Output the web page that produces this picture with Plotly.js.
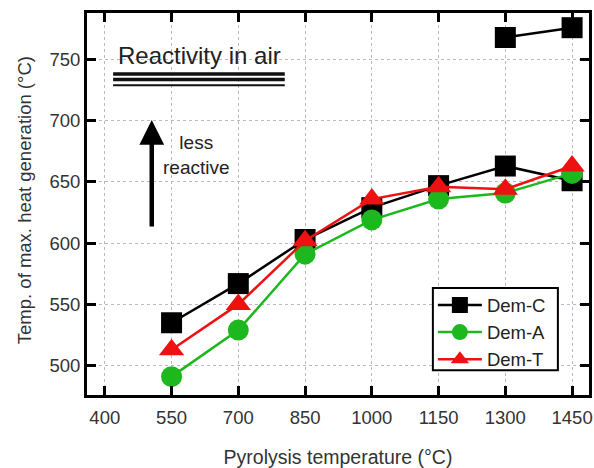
<!DOCTYPE html>
<html>
<head>
<meta charset="utf-8">
<script src="https://cdn.plot.ly/plotly-3.0.1.min.js"></script>
<style>html,body{margin:0;padding:0;background:#fff;}#chart{width:594px;height:468px;}</style>
</head>
<body>
<div id="chart"></div>
<script>
var temps = [550, 700, 850, 1000, 1150, 1300, 1450];
var demC = [535, 567, 603, 629, 647, 663, 651];
var demA = [491, 529, 591, 619, 636, 641, 657];
var demT = [513, 550, 602, 636, 646, 644, 663];
var demCHighX = [1300, 1450];
var demCHigh = [768, 776];
var xTicks = [400, 550, 700, 850, 1000, 1150, 1300, 1450];
var yTicks = [500, 550, 600, 650, 700, 750];

var F = 'Liberation Sans, Arial, sans-serif';
var traces = [
  {x: temps, y: demC, name: 'Dem-C', mode: 'lines+markers',
   line: {color: '#000', width: 2.5}, marker: {symbol: 'square', size: 21, color: '#000'}},
  {x: temps, y: demA, name: 'Dem-A', mode: 'lines+markers',
   line: {color: '#1db81d', width: 2.5}, marker: {symbol: 'circle', size: 21, color: '#1db81d'}},
  {x: temps, y: demT, name: 'Dem-T', mode: 'lines+markers',
   line: {color: '#ee1111', width: 2.5}, marker: {symbol: 'triangle-up', size: 22, color: '#ee1111'}},
  {x: demCHighX, y: demCHigh, name: 'Dem-C', mode: 'lines+markers', showlegend: false,
   line: {color: '#000', width: 2.5}, marker: {symbol: 'square', size: 21, color: '#000'}}
];
var layout = {
  width: 594, height: 468,
  margin: {l: 87, r: 5, t: 13, b: 73},
  paper_bgcolor: '#fff', plot_bgcolor: '#fff',
  font: {family: F, color: '#333'},
  showlegend: true,
  legend: {x: 0.689, y: 0.284, xanchor: 'left', yanchor: 'top', borderwidth: 0,
           bgcolor: 'rgba(0,0,0,0)', font: {size: 18.5, color: '#222', family: F}, tracegroupgap: 0, itemwidth: 44},
  xaxis: {range: [360, 1488], tickvals: xTicks, ticktext: xTicks.map(String),
          ticks: 'inside', ticklen: 9, tickwidth: 3, tickcolor: '#000', ticklabelstandoff: 4,
          showline: true, linewidth: 3, linecolor: '#000', mirror: 'ticks',
          showgrid: true, gridcolor: '#b8b8c8', griddash: 'dot', gridwidth: 1, zeroline: false,
          tickfont: {size: 18.5, color: '#333'},
          title: {text: 'Pyrolysis temperature (°C)', font: {size: 19.5, color: '#333'}, standoff: 24}},
  yaxis: {range: [476, 788], tickvals: yTicks,
          ticks: 'inside', ticklen: 9, tickwidth: 3, tickcolor: '#000',
          showline: true, linewidth: 3, linecolor: '#000', mirror: 'ticks',
          showgrid: true, gridcolor: '#b8b8c8', griddash: 'dot', gridwidth: 1, zeroline: false,
          tickfont: {size: 18.5, color: '#333'}},
  shapes: [
    {type: 'rect', xref: 'paper', yref: 'paper', x0: 0.689, x1: 0.938, y0: 0.065, y1: 0.28,
     fillcolor: '#fff', line: {color: '#000', width: 2}, layer: 'above'},
    {type: 'line', xref: 'paper', yref: 'paper', x0: 0.052, x1: 0.394, y0: 0.840, y1: 0.840, line: {color: '#111', width: 3.5}},
    {type: 'line', xref: 'paper', yref: 'paper', x0: 0.052, x1: 0.394, y0: 0.826, y1: 0.826, line: {color: '#111', width: 3.5}},
    {type: 'line', xref: 'paper', yref: 'paper', x0: 0.052, x1: 0.394, y0: 0.811, y1: 0.811, line: {color: '#111', width: 2}}
  ],
  annotations: [
    {xref: 'paper', yref: 'paper', x: -0.1255, y: 0.51, xanchor: 'center', yanchor: 'middle', textangle: -90,
     text: 'Temp. of max. heat generation (°C)', showarrow: false,
     font: {size: 18.5, color: '#333', family: F}},
    {xref: 'paper', yref: 'paper', x: 0.225, y: 0.89, xanchor: 'center', yanchor: 'middle',
     text: 'Reactivity in air', showarrow: false,
     font: {size: 24, color: '#222', family: F}},
    {xref: 'paper', yref: 'paper', x: 0.219, y: 0.628, xanchor: 'center', yanchor: 'middle',
     text: 'less<br>reactive', showarrow: false,
     font: {size: 19, color: '#222', family: F}},
    {xref: 'paper', yref: 'paper', x: 0.129, y: 0.72, ax: 0, ay: 108, text: '', showarrow: true,
     arrowhead: 2, arrowsize: 1.1, arrowwidth: 4.5, arrowcolor: '#000'}
  ]
};
Plotly.newPlot('chart', traces, layout, {displayModeBar: false});
</script>
</body>
</html>
